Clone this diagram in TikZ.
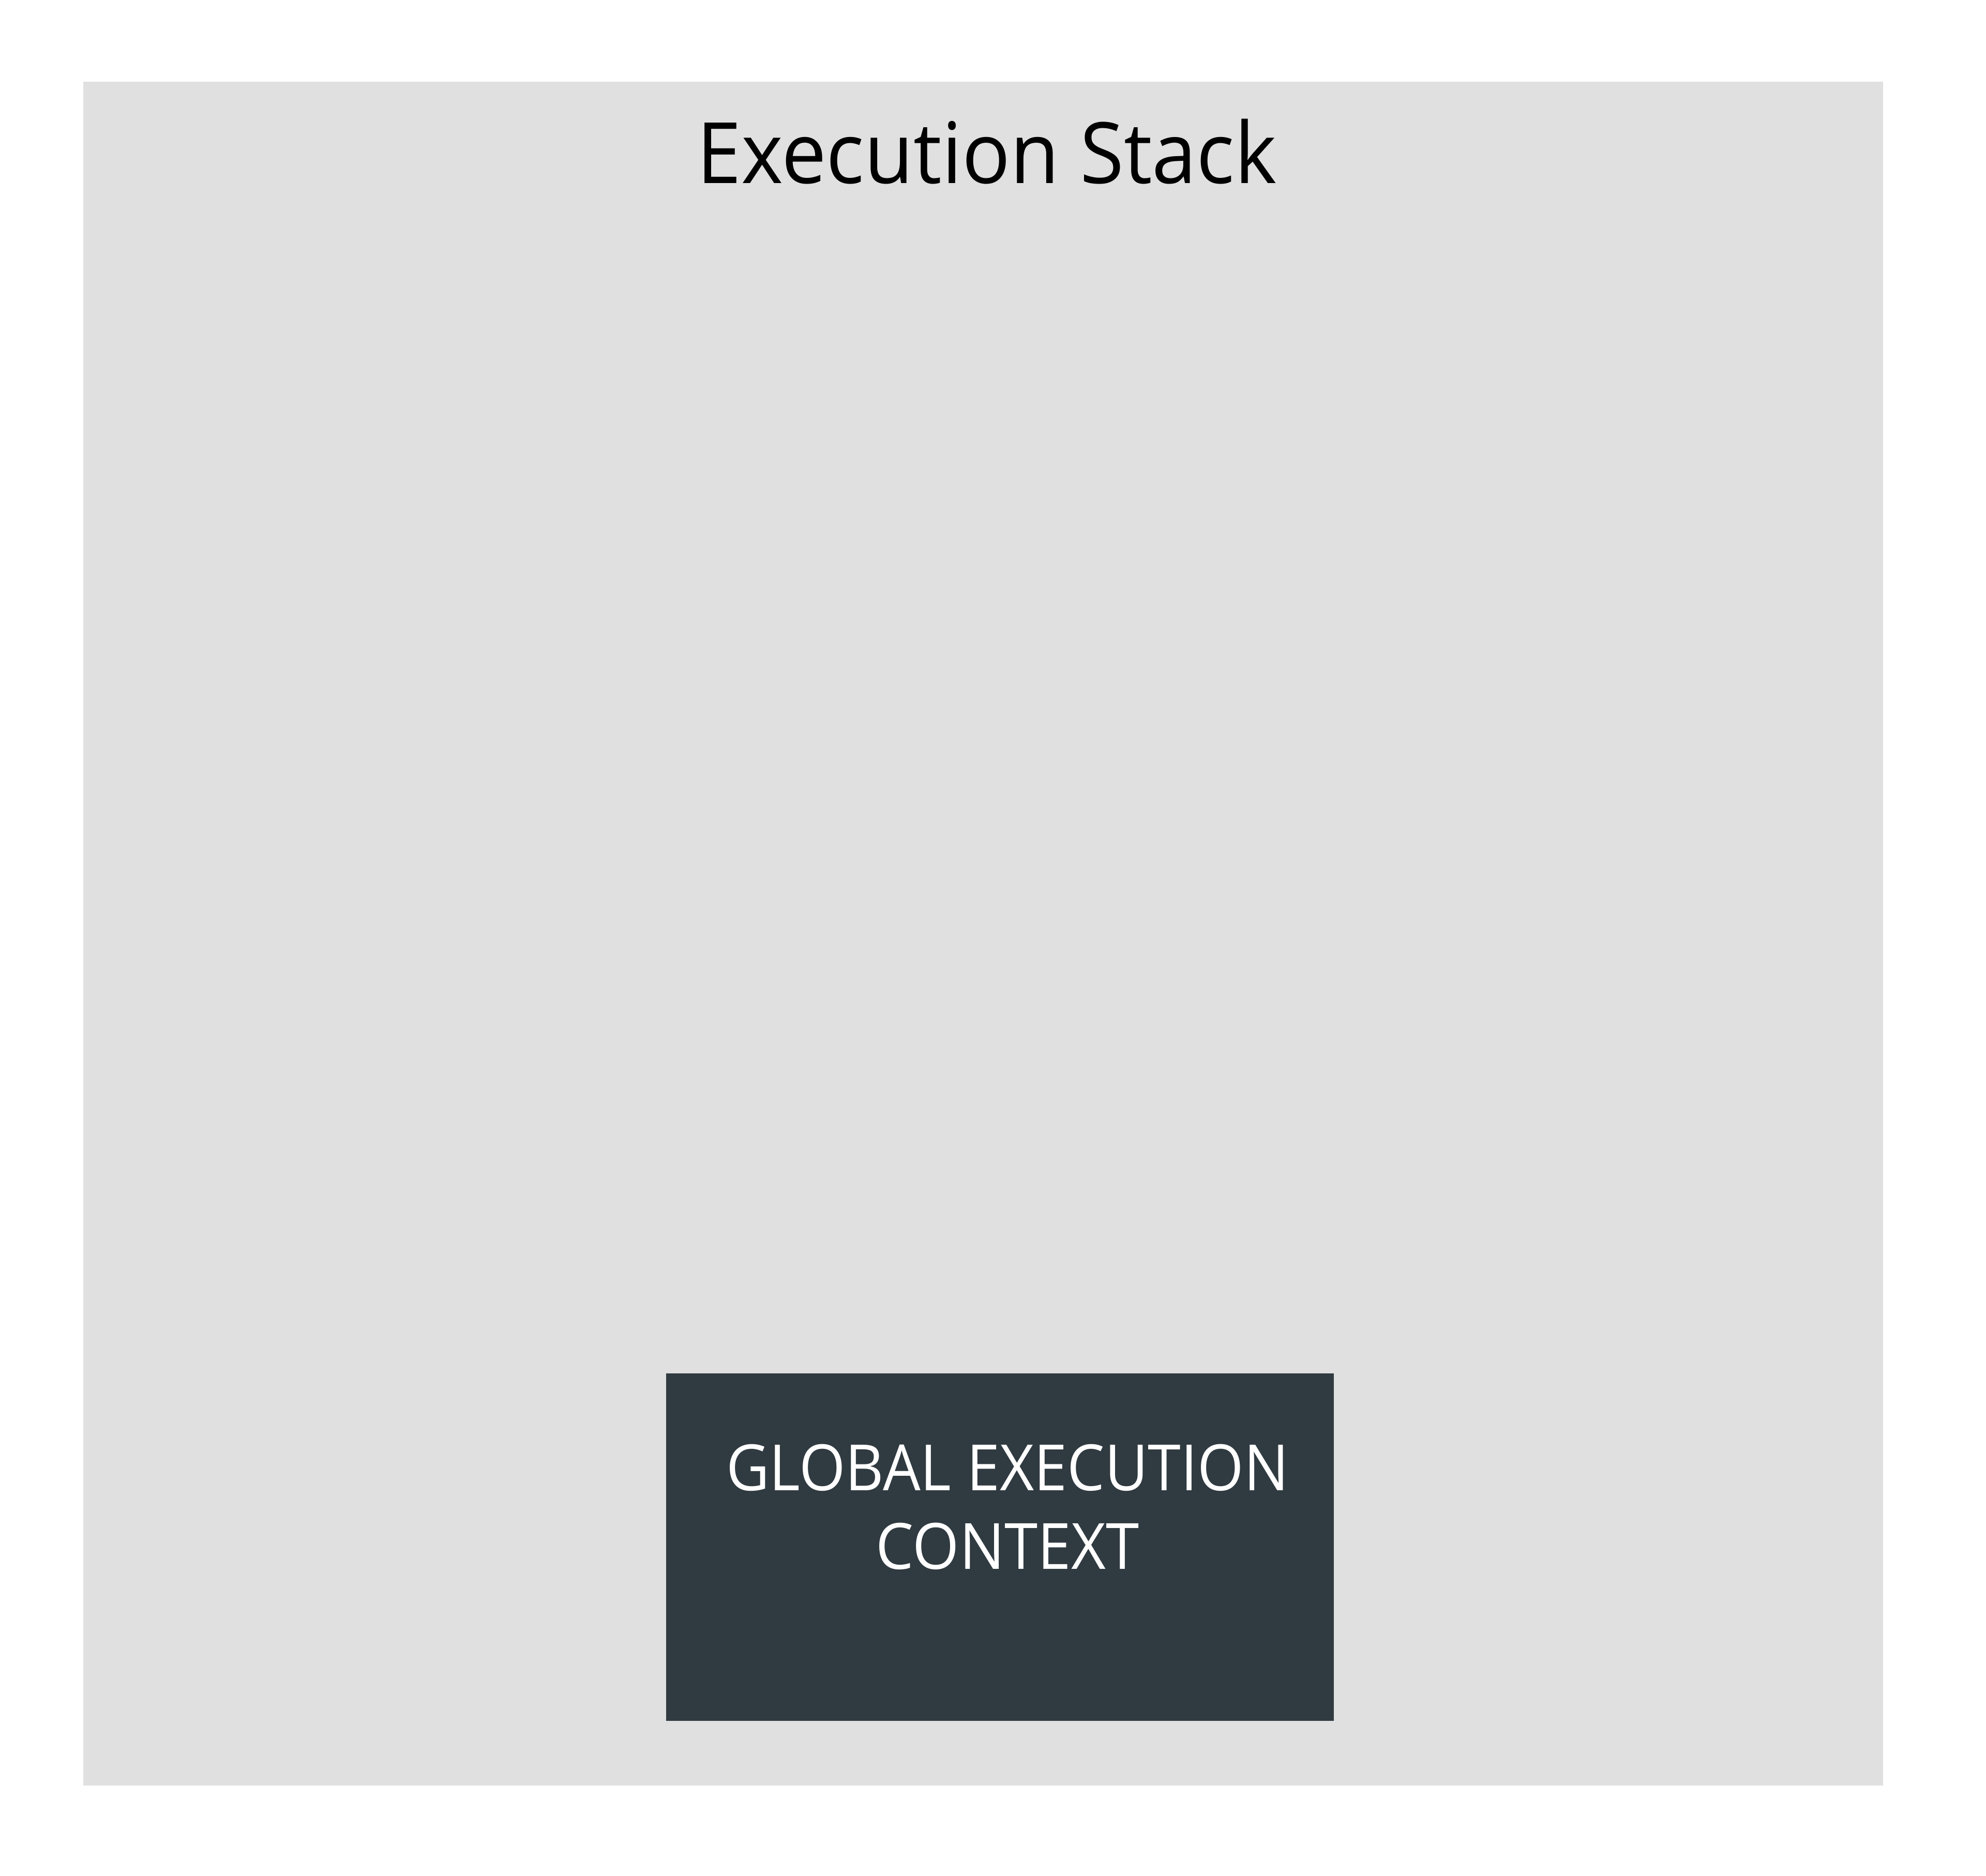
\documentclass[tikz,border=0pt]{standalone}
\usepackage{fontspec}
\usepackage{graphicx}
\setmainfont{Open Sans}
\definecolor{stackgray}{HTML}{E0E0E0}
\definecolor{ctxdark}{HTML}{303A41}
\begin{document}
\begin{tikzpicture}[x=1mm,y=1mm,
  titletext/.style={anchor=base,inner sep=0pt,font=\fontsize{46.6pt}{50pt}\selectfont,text=black},
  ctxtext/.style={anchor=base,inner sep=0pt,font=\fontsize{35.1pt}{40pt}\selectfont,text=white},
  panel/.style={fill=stackgray,draw=none},
  ctxbox/.style={fill=ctxdark,draw=none,rectangle,inner sep=0pt}]
\useasboundingbox (0,0) rectangle (384,362.8);
\fill[white] (0,0) rectangle (384,362.8);
\node[panel,rectangle,inner sep=0pt,minimum width=348mm,minimum height=329.5mm,anchor=south west] (stack) at (16,17.4) {};
\node[titletext] (title) at (190.8,327.3) {\scalebox{0.944}[1]{Execution Stack}};
\node[ctxbox,minimum width=129.1mm,minimum height=67.2mm,anchor=south west] (gec) at (128.7,29.9) {};
\node[ctxtext] (gecA) at (194.8,74.5) {\scalebox{0.932}[1]{GLOBAL EXECUTION}};
\node[ctxtext] (gecB) at (194.8,59.3) {\scalebox{0.94}[1]{CONTEXT}};
\end{tikzpicture}
\end{document}
